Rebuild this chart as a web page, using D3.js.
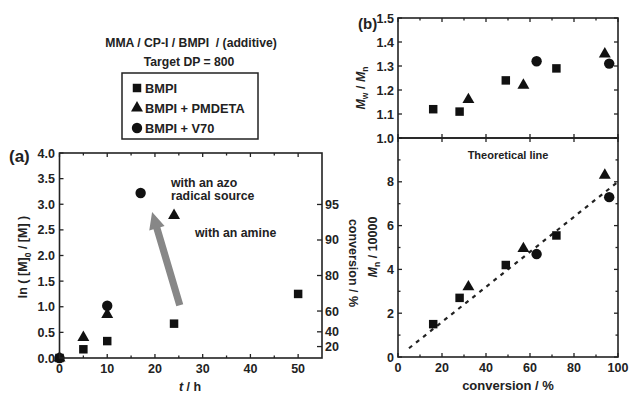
<!DOCTYPE html>
<html>
<head>
<meta charset="utf-8">
<script src="https://cdn.jsdelivr.net/npm/d3@7"></script>
<style>
  body { margin: 0; background: #fff; }
  text { font-family: "Liberation Sans", Arial, sans-serif; font-weight: bold; fill: #222; white-space: pre; }
</style>
</head>
<body>
<div id="chart"></div>
<script>
// ---- panel (a) data: ln([M]0/[M]) vs t/h
var timeBMPI = [0, 5, 10, 24, 50];
var lnBMPI = [0, 0.17, 0.33, 0.67, 1.25];
var timePMDETA = [0, 5, 10, 24];
var lnPMDETA = [0, 0.40, 0.85, 2.78];
var timeV70 = [0, 10, 17];
var lnV70 = [0, 1.02, 3.22];
var convTicks = [20, 40, 60, 80, 90, 95]; // right axis, conversion / %
var arrowFrom = [25.2, 1.03];
var arrowTo = [19.4, 2.85];

// ---- panel (b) data: Mw/Mn and Mn/10000 vs conversion
var convBMPI = [16, 28, 49, 72];
var pdiBMPI = [1.12, 1.11, 1.24, 1.29];
var mnBMPI = [1.5, 2.7, 4.2, 5.55];
var convPMDETA = [32, 57, 94];
var pdiPMDETA = [1.16, 1.22, 1.35];
var mnPMDETA = [3.2, 4.95, 8.3];
var convV70 = [63, 96];
var pdiV70 = [1.32, 1.31];
var mnV70 = [4.7, 7.3];
var theoryConv = [5, 100];
var theoryMn = [0.4, 8.0];

var W = 631, H = 394;
var fs = 12.5; // tick / label font size
var svg = d3.select("#chart").append("svg")
    .attr("width", W).attr("height", H);

var sym = {
    square: d3.symbol().type(d3.symbolSquare).size(72),
    triangle: d3.symbol().type(d3.symbolTriangle).size(62),
    circle: d3.symbol().type(d3.symbolCircle).size(85)
};

function drawPoints(g, x, y, xs, ys, shape) {
    g.selectAll(null).data(xs).enter().append("path")
        .attr("d", sym[shape])
        .attr("transform", function (d, i) { return "translate(" + x(d) + "," + y(ys[i]) + ")"; })
        .attr("fill", "#111");
}

// inward ticks on one side of a frame
function ticks(g, scale, vals, pos, orient, len) {
    g.selectAll(null).data(vals).enter().append("line")
        .attr("x1", function (d) { return orient == "x" ? scale(d) : pos; })
        .attr("x2", function (d) { return orient == "x" ? scale(d) : pos + len; })
        .attr("y1", function (d) { return orient == "x" ? pos : scale(d); })
        .attr("y2", function (d) { return orient == "x" ? pos + len : scale(d); })
        .attr("stroke", "#222").attr("stroke-width", 1.3);
}

function frame(x0, y0, x1, y1) {
    svg.append("rect")
        .attr("x", x0).attr("y", y0).attr("width", x1 - x0).attr("height", y1 - y0)
        .attr("fill", "none").attr("stroke", "#222").attr("stroke-width", 1.6);
}

// ================= panel (a) =================
var xa = d3.scaleLinear().domain([0, 55]).range([59.5, 322]);
var ya = d3.scaleLinear().domain([0, 4]).range([358, 153]);
var ga = svg.append("g");

frame(59.5, 153, 322, 358);
ticks(ga, xa, d3.range(0, 55, 10), 358, "x", -4);
ticks(ga, xa, d3.range(5, 55, 10), 358, "x", -2.5);
ticks(ga, xa, d3.range(0, 55, 10), 153, "x", 4);
ticks(ga, xa, d3.range(5, 55, 10), 153, "x", 2.5);
ticks(ga, ya, d3.range(0, 4.01, 0.5), 59.5, "y", 4);
// right conversion axis: y = ln(1/(1-c))
var convY = function (c) { return ya(Math.log(1 / (1 - c / 100))); };
ticks(ga, convY, convTicks, 322, "y", -5);

ga.selectAll(null).data(d3.range(0, 55, 10)).enter().append("text")
    .attr("x", function (d) { return xa(d); }).attr("y", 373)
    .attr("text-anchor", "middle").attr("font-size", fs)
    .text(function (d) { return d; });
ga.selectAll(null).data(d3.range(0, 4.01, 0.5)).enter().append("text")
    .attr("x", 55).attr("y", function (d) { return ya(d) + 4.5; })
    .attr("text-anchor", "end").attr("font-size", fs)
    .text(function (d) { return d3.format(".1f")(d); });
ga.selectAll(null).data(convTicks).enter().append("text")
    .attr("x", 325).attr("y", function (d) { return convY(d) + 4.5; })
    .attr("font-size", fs)
    .text(function (d) { return d; });

// axis titles
var xt = ga.append("text").attr("x", 190).attr("y", 391).attr("text-anchor", "middle").attr("font-size", fs);
xt.append("tspan").attr("font-style", "italic").text("t");
xt.append("tspan").text(" / h");

var yt = ga.append("text").attr("transform", "translate(27,257) rotate(-90)")
    .attr("text-anchor", "middle").attr("font-size", fs);
yt.append("tspan").text("ln ( [M]");
yt.append("tspan").attr("dy", 4).attr("font-size", 8.5).text("0");
yt.append("tspan").attr("dy", -4).text(" / [M] )");

ga.append("text").attr("transform", "translate(349,263) rotate(90)")
    .attr("text-anchor", "middle").attr("font-size", fs).text("conversion / %");

ga.append("text").attr("x", 9).attr("y", 162).attr("font-size", 17).text("(a)");

// arrow
var ax0 = xa(arrowFrom[0]), ay0 = ya(arrowFrom[1]), ax1 = xa(arrowTo[0]), ay1 = ya(arrowTo[1]);
var ang = Math.atan2(ay1 - ay0, ax1 - ax0);
var headLen = 17, headW = 8, bodyW = 3.6;
var bx = ax1 - headLen * Math.cos(ang), by = ay1 - headLen * Math.sin(ang);
var px = -Math.sin(ang), py = Math.cos(ang);
var arrowPts = [
    [ax0 + px * bodyW, ay0 + py * bodyW],
    [bx + px * bodyW, by + py * bodyW],
    [bx + px * headW, by + py * headW],
    [ax1, ay1],
    [bx - px * headW, by - py * headW],
    [bx - px * bodyW, by - py * bodyW],
    [ax0 - px * bodyW, ay0 - py * bodyW]
];
ga.append("polygon").attr("points", arrowPts.map(function (p) { return p.join(","); }).join(" "))
    .attr("fill", "#878787");

drawPoints(ga, xa, ya, timeBMPI, lnBMPI, "square");
drawPoints(ga, xa, ya, timePMDETA, lnPMDETA, "triangle");
drawPoints(ga, xa, ya, timeV70, lnV70, "circle");

ga.append("text").attr("x", 171).attr("y", 187).attr("font-size", 12.3).text("with an azo");
ga.append("text").attr("x", 171).attr("y", 199.5).attr("font-size", 12.3).text("radical source");
ga.append("text").attr("x", 195).attr("y", 237).attr("font-size", 12.3).text("with an amine");

// title + legend
svg.append("text").attr("x", 191).attr("y", 47).attr("text-anchor", "middle").attr("font-size", 12.2).text("MMA / CP-I / BMPI  / (additive)");
svg.append("text").attr("x", 189).attr("y", 66).attr("text-anchor", "middle").attr("font-size", 12.2).text("Target DP = 800");
svg.append("rect").attr("x", 122).attr("y", 73).attr("width", 136).attr("height", 66)
    .attr("fill", "none").attr("stroke", "#222").attr("stroke-width", 1.5);
var legend = [["square", "BMPI", 88], ["triangle", "BMPI + PMDETA", 108], ["circle", "BMPI + V70", 128]];
legend.forEach(function (l) {
    svg.append("path").attr("d", sym[l[0]]).attr("fill", "#111")
        .attr("transform", "translate(137," + l[2] + ")");
    svg.append("text").attr("x", 145).attr("y", l[2] + 4.5).attr("font-size", 12.8).text(l[1]);
});

// ================= panel (b) =================
var xb = d3.scaleLinear().domain([0, 100]).range([398, 618]);
var yTop = d3.scaleLinear().domain([1.0, 1.5]).range([138, 18]);
var yBot = d3.scaleLinear().domain([0, 10]).range([357, 138]);
var gb = svg.append("g");

frame(398, 18, 618, 138);
frame(398, 138, 618, 357);
ticks(gb, xb, d3.range(0, 101, 20), 357, "x", -4);
ticks(gb, xb, d3.range(10, 100, 20), 357, "x", -2.5);
ticks(gb, xb, d3.range(0, 101, 20), 18, "x", 4);
ticks(gb, xb, d3.range(10, 100, 20), 18, "x", 2.5);
ticks(gb, xb, d3.range(0, 101, 20), 138, "x", -4);
ticks(gb, xb, d3.range(0, 101, 20), 138, "x", 4);
ticks(gb, yTop, d3.range(1.0, 1.51, 0.1), 398, "y", 4);
ticks(gb, yTop, d3.range(1.0, 1.51, 0.1), 618, "y", -4);
ticks(gb, yBot, d3.range(0, 10.1, 2), 398, "y", 4);
ticks(gb, yBot, d3.range(1, 10, 2), 398, "y", 2.5);
ticks(gb, yBot, d3.range(0, 10.1, 2), 618, "y", -4);
ticks(gb, yBot, d3.range(1, 10, 2), 618, "y", -2.5);

gb.selectAll(null).data(d3.range(0, 101, 20)).enter().append("text")
    .attr("x", function (d) { return xb(d); }).attr("y", 372)
    .attr("text-anchor", "middle").attr("font-size", fs)
    .text(function (d) { return d; });
gb.selectAll(null).data(d3.range(1.0, 1.51, 0.1)).enter().append("text")
    .attr("x", 394).attr("y", function (d) { return yTop(d) + 4.5; })
    .attr("text-anchor", "end").attr("font-size", fs)
    .text(function (d) { return d3.format(".1f")(d); });
gb.selectAll(null).data(d3.range(0, 9, 2)).enter().append("text")
    .attr("x", 394).attr("y", function (d) { return yBot(d) + 4.5; })
    .attr("text-anchor", "end").attr("font-size", fs)
    .text(function (d) { return d; });

gb.append("text").attr("x", 508).attr("y", 390).attr("text-anchor", "middle").attr("font-size", 13).text("conversion / %");

var t1 = gb.append("text").attr("transform", "translate(365,88) rotate(-90)")
    .attr("text-anchor", "middle").attr("font-size", fs);
t1.append("tspan").attr("font-style", "italic").text("M");
t1.append("tspan").attr("dy", 3).attr("font-size", 8.5).text("w");
t1.append("tspan").attr("dy", -3).text(" / ");
t1.append("tspan").attr("font-style", "italic").text("M");
t1.append("tspan").attr("dy", 3).attr("font-size", 8.5).text("n");

var t2 = gb.append("text").attr("transform", "translate(377,247) rotate(-90)")
    .attr("text-anchor", "middle").attr("font-size", fs);
t2.append("tspan").attr("font-style", "italic").text("M");
t2.append("tspan").attr("dy", 3).attr("font-size", 8.5).text("n");
t2.append("tspan").attr("dy", -3).text(" / 10000");

gb.append("text").attr("x", 358).attr("y", 29).attr("font-size", 15).text("(b)");
gb.append("text").attr("x", 508).attr("y", 159).attr("text-anchor", "middle").attr("font-size", 11).text("Theoretical line");

// theoretical line
gb.append("line")
    .attr("x1", xb(theoryConv[0])).attr("y1", yBot(theoryMn[0]))
    .attr("x2", xb(theoryConv[1])).attr("y2", yBot(theoryMn[1]))
    .attr("stroke", "#222").attr("stroke-width", 2.2).attr("stroke-dasharray", "4,5");

drawPoints(gb, xb, yTop, convBMPI, pdiBMPI, "square");
drawPoints(gb, xb, yTop, convPMDETA, pdiPMDETA, "triangle");
drawPoints(gb, xb, yTop, convV70, pdiV70, "circle");
drawPoints(gb, xb, yBot, convBMPI, mnBMPI, "square");
drawPoints(gb, xb, yBot, convPMDETA, mnPMDETA, "triangle");
drawPoints(gb, xb, yBot, convV70, mnV70, "circle");
</script>
</body>
</html>
